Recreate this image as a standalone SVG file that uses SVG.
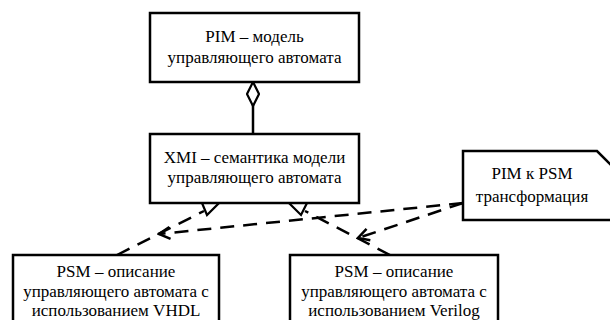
<svg xmlns="http://www.w3.org/2000/svg" width="610" height="320" viewBox="0 0 610 320">
<style>
.box{fill:#fff;stroke:#000;stroke-width:2.5}
.t{font-size:17px;fill:#000;text-anchor:middle}
.ln{fill:none;stroke:#000;stroke-width:2.5}
.dash{fill:none;stroke:#000;stroke-width:2.5;stroke-dasharray:14 9}
.tri{fill:#fff;stroke:#000;stroke-width:2.2;stroke-linejoin:miter}
</style>
<defs>
<marker id="diamond" viewBox="0 0 26 14" refX="25" refY="7" markerWidth="26" markerHeight="14" markerUnits="userSpaceOnUse" orient="auto">
<path d="M1,7 L13,1 L25,7 L13,13 Z" fill="#fff" stroke="#000" stroke-width="2.2"/>
</marker>
<marker id="open" viewBox="-14 -8 16 16" refX="0" refY="0" markerWidth="16" markerHeight="16" markerUnits="userSpaceOnUse" orient="auto">
<path d="M-11,-6 L0,0 L-11,6" fill="none" stroke="#000" stroke-width="2.5"/>
</marker>
</defs>
<g id="connectors">
<line class="ln" x1="253" y1="133" x2="253" y2="82" marker-end="url(#diamond)"/>
<line class="dash" x1="117" y1="255" x2="204" y2="211"/>
<polygon class="tri" points="202,203 219,203 207,215"/>
<line class="dash" x1="390" y1="255" x2="305" y2="211"/>
<polygon class="tri" points="289,203 307,203 301,215"/>
<line class="dash" x1="463" y1="203" x2="159" y2="234" marker-end="url(#open)"/>
<line class="dash" x1="463" y1="203" x2="358" y2="238" marker-end="url(#open)"/>
</g>
<g id="pim">
<rect class="box" x="150" y="13" width="209" height="69"/>
<text class="t" x="254.5" y="42" font-family="Liberation Serif">PIM – модель</text>
<text class="t" x="254.5" y="63" font-family="Liberation Serif">управляющего автомата</text>
</g>
<g id="xmi">
<rect class="box" x="150" y="134" width="209" height="69"/>
<text class="t" x="254.5" y="163" font-family="Liberation Serif">XMI – семантика модели</text>
<text class="t" x="254.5" y="183" font-family="Liberation Serif">управляющего автомата</text>
</g>
<g id="psm-vhdl">
<rect class="box" x="13" y="255" width="206" height="70"/>
<text class="t" x="116" y="277" font-family="Liberation Serif">PSM – описание</text>
<text class="t" x="116" y="297" font-family="Liberation Serif">управляющего автомата с</text>
<text class="t" x="116" y="316" font-family="Liberation Serif">использованием VHDL</text>
</g>
<g id="psm-verilog">
<rect class="box" x="290" y="255" width="208" height="70"/>
<text class="t" x="394" y="277" font-family="Liberation Serif">PSM – описание</text>
<text class="t" x="394" y="297" font-family="Liberation Serif">управляющего автомата с</text>
<text class="t" x="394" y="316" font-family="Liberation Serif">использованием Verilog</text>
</g>
<g id="note">
<polygon class="box" points="463,151 597,151 613,167 613,220 463,220"/>
<text class="t" x="532" y="179" font-family="Liberation Serif">PIM к PSM</text>
<text class="t" x="532" y="202" font-family="Liberation Serif">трансформация</text>
</g>
</svg>
